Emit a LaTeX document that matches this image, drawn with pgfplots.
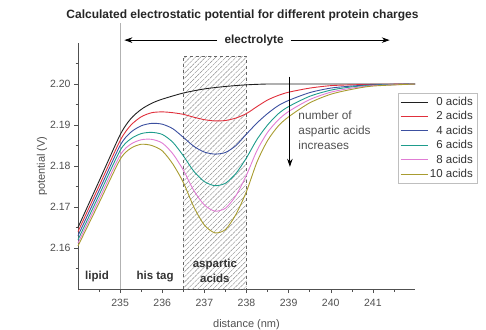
\documentclass[border=0pt]{standalone}
\usepackage{pgfplots}
\pgfplotsset{compat=1.18}
\usepackage{fontspec}
\setmainfont{Liberation Sans}
\usetikzlibrary{patterns.meta,arrows.meta}
\definecolor{cBlack}{HTML}{202020}
\definecolor{cRed}{HTML}{E0303C}
\definecolor{cBlue}{HTML}{3C50A0}
\definecolor{cTeal}{HTML}{1E9C8C}
\definecolor{cPink}{HTML}{E07CD4}
\definecolor{cOlive}{HTML}{A89C30}
\definecolor{axgray}{HTML}{505050}
\begin{document}
\begin{tikzpicture}[x=1pt,y=1pt]
\useasboundingbox (-78,-40) rectangle (408,289);
\begin{axis}[
  scale only axis,
  width=337pt, height=246pt,
  xmin=234, xmax=242, ymin=2.15, ymax=2.21,
  axis lines*=left,
  axis line style={axgray, line width=0.6pt},
  tick align=outside,
  major tick length=4pt, minor tick length=2.5pt,
  tick style={axgray, line width=0.5pt},
  xtick={235,236,...,241},
  minor xtick={234.5,235.5,...,241.5},
  ytick={2.16,2.17,2.18,2.19,2.20},
  minor ytick={2.155,2.165,2.175,2.185,2.195,2.205},
  yticklabel style={/pgf/number format/.cd,fixed,precision=2,fixed zerofill},
  /pgf/number format/assume math mode=true,
  ticklabel style={font=\fontsize{10.5}{12}\selectfont, text=axgray},
  xticklabel style={yshift=-3pt},
  xlabel={distance (nm)},
  ylabel={potential (V)},
  label style={font=\fontsize{11}{12}\selectfont, text=axgray},
  xlabel style={yshift=-6pt},
  ylabel style={yshift=-4pt},
  clip=false,
  legend style={at={(axis description cs:1.184,0.797)}, anchor=north east,
    draw=gray!50, font=\fontsize{11.5}{12}\selectfont, text=black!80,
    row sep=0.6pt, inner sep=2pt},
  legend cell align=right,
  legend image code/.code={\draw[#1] (0pt,0pt) -- (27pt,0pt);},
  every axis plot/.append style={line width=0.9pt, smooth, tension=0.45},
]
% hatched region
\draw[pattern={Lines[angle=45,distance=3.6pt,line width=0.45pt]}, pattern color=gray!90, draw=gray!80!black, dashed, line width=0.5pt]
  (axis cs:236.5,2.15) rectangle (axis cs:238,2.2068);
% vertical line at 235
\draw[gray!60, line width=0.6pt] (axis cs:235,2.15) -- (axis cs:235,2.2148);

\addplot[cBlack] coordinates {(234,2.1650) (234.5,2.1763) (235,2.1876) (235.25,2.1915) (235.5,2.1938) (235.75,2.1953) (236,2.1963) (236.5,2.1978) (237,2.1988) (237.5,2.1994) (238,2.1998) (238.5,2.2000) (239,2.2000) (240,2.2000) (241,2.2000) (242,2.2000)};
\addlegendentry{0 acids}
\addplot[cRed] coordinates {(234,2.1640) (234.5,2.1751) (235,2.1862) (235.25,2.1899) (235.5,2.1920) (235.75,2.1930) (236,2.1932) (236.25,2.1930) (236.5,2.1926) (236.75,2.1919) (237,2.1913) (237.25,2.1910) (237.5,2.1911) (237.75,2.1917) (238,2.1928) (238.25,2.1945) (238.5,2.1961) (238.75,2.1972) (239,2.1980) (239.5,2.1990) (240,2.1996) (240.5,2.1998) (241,2.1999) (242,2.2000)};
\addlegendentry{2 acids}
\addplot[cBlue] coordinates {(234,2.1630) (234.5,2.1740) (235,2.1850) (235.25,2.1882) (235.5,2.1898) (235.75,2.1904) (236,2.1902) (236.25,2.1891) (236.5,2.1870) (236.75,2.1848) (237,2.1834) (237.25,2.1829) (237.5,2.1833) (237.75,2.1850) (238,2.1878) (238.25,2.1905) (238.5,2.1928) (238.75,2.1947) (239,2.1960) (239.5,2.1979) (240,2.1990) (240.5,2.1995) (241,2.1998) (242,2.2000)};
\addlegendentry{4 acids}
\addplot[cTeal] coordinates {(234,2.1620) (234.5,2.1729) (235,2.1838) (235.25,2.1866) (235.5,2.1879) (235.75,2.1882) (236,2.1877) (236.25,2.1858) (236.5,2.1825) (236.75,2.1787) (237,2.1762) (237.25,2.1752) (237.5,2.1758) (237.75,2.1782) (238,2.1820) (238.25,2.1865) (238.5,2.1900) (238.75,2.1927) (239,2.1945) (239.5,2.1970) (240,2.1985) (240.5,2.1993) (241,2.1997) (242,2.2000)};
\addlegendentry{6 acids}
\addplot[cPink] coordinates {(234,2.1612) (234.5,2.1719) (235,2.1826) (235.25,2.1853) (235.5,2.1864) (235.75,2.1865) (236,2.1856) (236.25,2.1830) (236.5,2.1790) (236.75,2.1740) (237,2.1705) (237.25,2.1690) (237.5,2.1697) (237.75,2.1728) (238,2.1778) (238.25,2.1838) (238.5,2.1882) (238.75,2.1912) (239,2.1933) (239.5,2.1962) (240,2.1980) (240.5,2.1990) (241,2.1996) (242,2.2000)};
\addlegendentry{8 acids}
\addplot[cOlive] coordinates {(234,2.1605) (234.5,2.1710) (235,2.1816) (235.25,2.1843) (235.5,2.1853) (235.75,2.1850) (236,2.1837) (236.25,2.1805) (236.5,2.1760) (236.75,2.1700) (237,2.1656) (237.25,2.1637) (237.5,2.1645) (237.75,2.1682) (238,2.1738) (238.25,2.1810) (238.5,2.1862) (238.75,2.1897) (239,2.1920) (239.5,2.1954) (240,2.1975) (240.5,2.1987) (241,2.1995) (242,2.2000)};
\addlegendentry{10 acids}

% electrolyte arrow
\draw[-{Stealth[length=8pt,width=5.5pt]}, line width=0.9pt] (axis cs:237.3,2.2107) -- (axis cs:235.1,2.2107);
\draw[-{Stealth[length=8pt,width=5.5pt]}, line width=0.9pt] (axis cs:239.05,2.2107) -- (axis cs:241.4,2.2107);
\node[font=\bfseries\fontsize{11.8}{13}\selectfont, text=black!85] at (axis cs:238.18,2.2107) {electrolyte};
% down arrow
\draw[-{Stealth[length=8pt,width=5.5pt]}, line width=0.9pt] (axis cs:239.03,2.2018) -- (axis cs:239.03,2.1798);
\node[anchor=west, align=left, font=\fontsize{11.8}{15}\selectfont, text=axgray] at (axis cs:239.15,2.1886) {number of\\aspartic acids\\increases};
% region labels
\node[font=\bfseries\fontsize{11.5}{13}\selectfont, text=black!80] at (axis cs:234.45,2.1530) {lipid};
\node[font=\bfseries\fontsize{11.5}{13}\selectfont, text=black!80] at (axis cs:235.83,2.1530) {his tag};
\node[align=center, font=\bfseries\fontsize{11.5}{15}\selectfont, text=black!80] at (axis cs:237.25,2.1543) {aspartic\\acids};
\end{axis}
\node[font=\bfseries\fontsize{12}{14}\selectfont, text=black!85] at (164.5,274) {Calculated electrostatic potential for different protein charges};
\end{tikzpicture}
\end{document}
